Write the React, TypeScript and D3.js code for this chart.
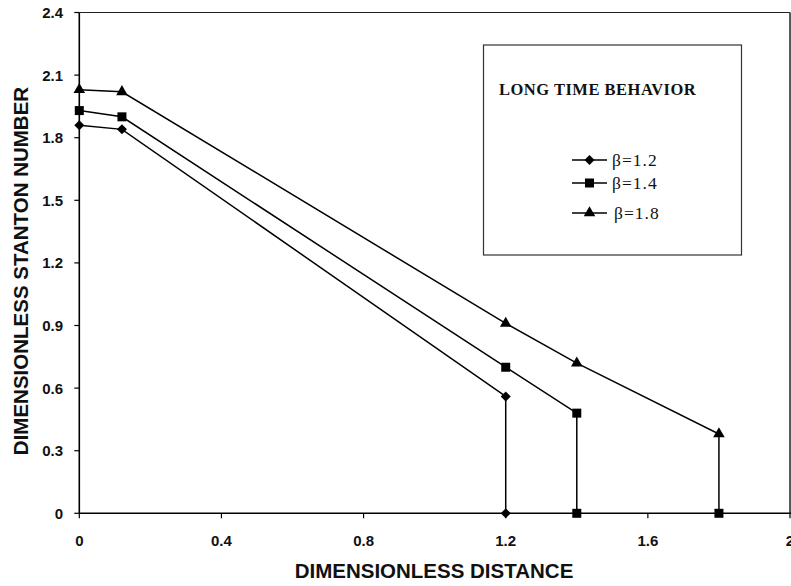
import React from "react";
import * as d3 from "d3";

const xTicks = [0, 0.4, 0.8, 1.2, 1.6, 2];
const yTicks = [0, 0.3, 0.6, 0.9, 1.2, 1.5, 1.8, 2.1, 2.4];

const xB12 = [0, 0.12, 1.2, 1.2];
const yB12 = [1.86, 1.84, 0.56, 0];
const xB14 = [0, 0.12, 1.2, 1.4, 1.4];
const yB14 = [1.93, 1.9, 0.7, 0.48, 0];
const xB18 = [0, 0.12, 1.2, 1.4, 1.8, 1.8];
const yB18 = [2.03, 2.02, 0.91, 0.72, 0.38, 0];

const seriesNames = ["β=1.2", "β=1.4", "β=1.8"];
const markers1 = ["diamond", "diamond", "diamond", "diamond"];
const markers2 = ["square", "square", "square", "square", "square"];
const markers3 = ["triangle", "triangle", "triangle", "triangle", "triangle", "square"];

const xTitle = "DIMENSIONLESS DISTANCE";
const yTitle = "DIMENSIONLESS STANTON NUMBER";
const legendTitle = "LONG TIME BEHAVIOR";

const W = 791;
const H = 586;
const left = 79.3;
const right = 790;
const top = 12.5;
const bottom = 513.3;

const x = d3.scaleLinear().domain([0, 2]).range([left, right]);
const y = d3.scaleLinear().domain([0, 2.4]).range([bottom, top]);

const symPath = (kind: string) => {
  if (kind === "diamond") return d3.symbol().type(d3.symbolSquare).size(50)()!;
  if (kind === "square") return d3.symbol().type(d3.symbolSquare).size(81)()!;
  return d3.symbol().type(d3.symbolTriangle).size(58)()!;
};

const Marker = ({ kind, cx, cy }: { kind: string; cx: number; cy: number }) => (
  <path
    d={symPath(kind)}
    transform={`translate(${cx},${cy})${kind === "diamond" ? " rotate(45)" : ""}`}
    fill="#000"
  />
);

export default function App() {
  const series = [
    { xs: xB12, ys: yB12, marks: markers1 },
    { xs: xB14, ys: yB14, marks: markers2 },
    { xs: xB18, ys: yB18, marks: markers3 },
  ];
  const line = d3
    .line<[number, number]>()
    .x((d) => x(d[0]))
    .y((d) => y(d[1]));
  const legendRows = [160, 183, 213];
  const legendMarks = ["diamond", "square", "triangle"];
  const legendTextX = [612, 612, 614];
  return (
    <svg
      width={W}
      height={H}
      style={{ position: "absolute", left: 0, top: 0, background: "#fff" }}
    >
      <rect x={0} y={0} width={W} height={H} fill="#fff" />
      <line x1={left} x2={right} y1={top} y2={top} stroke="#222" strokeWidth={1} />
      <line x1={right} x2={right} y1={top} y2={bottom} stroke="#222" strokeWidth={1.5} />
      <line x1={left} x2={W} y1={bottom} y2={bottom} stroke="#000" strokeWidth={1.6} />
      <line x1={left} x2={left} y1={top} y2={bottom} stroke="#000" strokeWidth={1.6} />
      {yTicks.map((t) => (
        <g key={"y" + t}>
          <line x1={left - 5} x2={left} y1={y(t)} y2={y(t)} stroke="#000" strokeWidth={1.2} />
          <text
            x={63}
            y={y(t) + 5.5}
            textAnchor="end"
            fontFamily="Liberation Sans, Arial, sans-serif"
            fontWeight="bold"
            fontSize={15}
            fill="#111"
          >
            {String(t)}
          </text>
        </g>
      ))}
      {xTicks.map((t) => (
        <g key={"x" + t}>
          <line x1={x(t)} x2={x(t)} y1={bottom} y2={bottom + 5} stroke="#000" strokeWidth={1.2} />
          <text
            x={x(t)}
            y={546}
            textAnchor="middle"
            fontFamily="Liberation Sans, Arial, sans-serif"
            fontWeight="bold"
            fontSize={15}
            fill="#111"
          >
            {String(t)}
          </text>
        </g>
      ))}
      <text
        x={434}
        y={578}
        textAnchor="middle"
        fontFamily="Liberation Sans, Arial, sans-serif"
        fontWeight="bold"
        fontSize={20.5}
        fill="#111"
      >
        {xTitle}
      </text>
      <text
        transform={`translate(28,271) rotate(-90)`}
        textAnchor="middle"
        fontFamily="Liberation Sans, Arial, sans-serif"
        fontWeight="bold"
        fontSize={20.5}
        fill="#111"
      >
        {yTitle}
      </text>
      {series.map((s, i) => {
        const pts = s.xs.map((v, j) => [v, s.ys[j]] as [number, number]);
        return (
          <g key={"s" + i}>
            <path d={line(pts)!} fill="none" stroke="#000" strokeWidth={1.5} />
            {pts.map((p, j) => (
              <Marker key={j} kind={s.marks[j]} cx={x(p[0])} cy={y(p[1])} />
            ))}
          </g>
        );
      })}
      <rect x={483.5} y={45} width={258} height={210} fill="#fff" stroke="#333" strokeWidth={1.2} />
      <text
        x={499}
        y={95}
        fontFamily="Liberation Serif, Times New Roman, serif"
        fontWeight="bold"
        fontSize={16.5}
        letterSpacing={0.5}
        fill="#111"
      >
        {legendTitle}
      </text>
      {seriesNames.map((n, i) => (
        <g key={"l" + i}>
          <line x1={572} x2={607} y1={legendRows[i]} y2={legendRows[i]} stroke="#000" strokeWidth={1.5} />
          <Marker kind={legendMarks[i]} cx={589.5} cy={legendRows[i]} />
          <text
            x={legendTextX[i]}
            y={legendRows[i] + 6}
            fontFamily="Liberation Serif, Times New Roman, serif"
            fontSize={17.5}
            letterSpacing={1}
            fill="#111"
          >
            {n}
          </text>
        </g>
      ))}
    </svg>
  );
}
